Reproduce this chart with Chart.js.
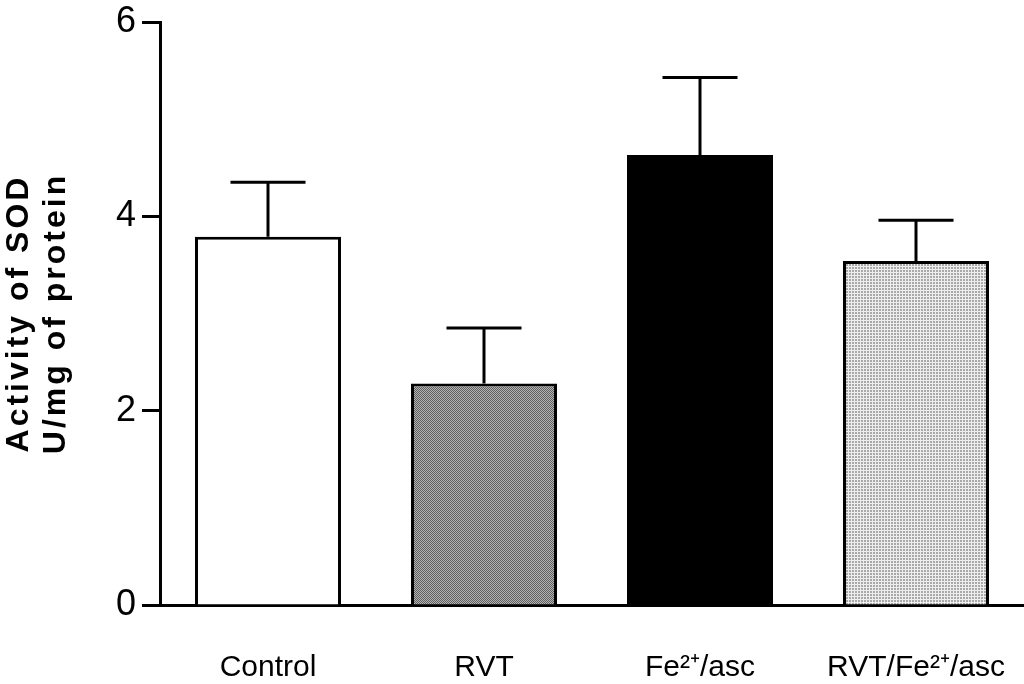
<!DOCTYPE html>
<html>
<head>
<meta charset="utf-8">
<script src="https://cdn.jsdelivr.net/npm/chart.js@4.4.0/dist/chart.umd.min.js"></script>
<style>
html,body{margin:0;padding:0;background:#fff;}
#wrap{width:1024px;height:684px;position:relative;}
</style>
</head>
<body>
<div id="wrap"><canvas id="c" width="1024" height="684"></canvas></div>
<script>
const categories = ['Control', 'RVT', 'Fe²⁺/asc', 'RVT/Fe²⁺/asc'];
const sodMeans = [3.79, 2.28, 4.63, 3.54];
const sodSEM = [0.56, 0.57, 0.80, 0.42];
const yTicks = [0, 2, 4, 6];
const yTitle = ['Activity of SOD', 'U/mg of protein'];

function makePattern(size, fn) {
  const c = document.createElement('canvas');
  c.width = size; c.height = size;
  const g = c.getContext('2d');
  for (let y = 0; y < size; y++) {
    for (let x = 0; x < size; x++) {
      g.fillStyle = fn(x, y);
      g.fillRect(x, y, 1, 1);
    }
  }
  return document.getElementById('c').getContext('2d').createPattern(c, 'repeat');
}
const darkPat = makePattern(2, (x, y) => ((x + y) % 2 === 0 ? '#5e5e5e' : '#b4b4b4'));
const lightPat = makePattern(3, (x, y) => ((x === 2 || y === 2) ? '#eeeeee' : '#a9a9a9'));
const fills = ['#ffffff', darkPat, '#000000', lightPat];

const errorBars = {
  id: 'errorBars',
  afterDatasetsDraw(chart) {
    const ctx = chart.ctx;
    const meta = chart.getDatasetMeta(0);
    const ys = chart.scales.y;
    ctx.save();
    ctx.strokeStyle = '#000';
    ctx.lineWidth = 3;
    meta.data.forEach((bar, i) => {
      const x = bar.x;
      const yTop = ys.getPixelForValue(sodMeans[i] + sodSEM[i]);
      const yBar = ys.getPixelForValue(sodMeans[i]);
      ctx.beginPath();
      ctx.moveTo(x, yBar);
      ctx.lineTo(x, yTop);
      ctx.moveTo(x - 37.5, yTop);
      ctx.lineTo(x + 37.5, yTop);
      ctx.stroke();
    });
    ctx.restore();
  }
};

const spacedTitle = {
  id: 'spacedTitle',
  beforeDraw(chart) {
    const s = chart.scales.y;
    if (s && !s._spacedPatched) {
      const orig = s.drawTitle.bind(s);
      s.drawTitle = function () {
        const c = this.ctx;
        const prev = c.letterSpacing;
        c.letterSpacing = '3px';
        orig();
        c.letterSpacing = prev;
      };
      s._spacedPatched = true;
    }
  }
};

new Chart(document.getElementById('c'), {
  type: 'bar',
  data: {
    labels: categories,
    datasets: [{
      data: sodMeans,
      backgroundColor: fills,
      borderColor: '#000',
      borderWidth: 3,
      borderSkipped: 'bottom',
      barPercentage: 0.676,
      categoryPercentage: 1.0
    }]
  },
  options: {
    responsive: false,
    animation: false,
    devicePixelRatio: 1,
    layout: { padding: { top: 22, right: 0, left: 0, bottom: 0 } },
    plugins: { legend: { display: false }, tooltip: { enabled: false } },
    scales: {
      x: {
        grid: { display: false },
        border: { display: true, color: '#000', width: 3 },
        ticks: {
          color: '#000',
          padding: 37,
          maxRotation: 0,
          autoSkip: false,
          font: { family: 'Liberation Sans, Arial, sans-serif', size: 30 }
        },
        afterFit(scale) { scale.height = 79; scale.paddingRight = 0; scale.paddingLeft = 0; }
      },
      y: {
        min: 0,
        max: 6,
        afterBuildTicks(scale) { scale.ticks = yTicks.map(v => ({ value: v })); },
        grid: {
          drawOnChartArea: false,
          drawTicks: true,
          tickLength: 18,
          tickWidth: 3,
          tickColor: '#000'
        },
        border: { display: true, color: '#000', width: 3 },
        ticks: {
          color: '#000',
          padding: 6,
          font: { family: 'Liberation Sans, Arial, sans-serif', size: 36 }
        },
        title: {
          display: true,
          text: yTitle,
          color: '#000',
          padding: { top: 1, bottom: 0 },
          font: { family: 'Liberation Sans, Arial, sans-serif', size: 32, weight: 'bold', lineHeight: 1.15 }
        },
        afterFit(scale) { scale.width = 160; scale.paddingTop = 0; scale.paddingBottom = 0; }
      }
    }
  },
  plugins: [errorBars, spacedTitle]
});
</script>
</body>
</html>
